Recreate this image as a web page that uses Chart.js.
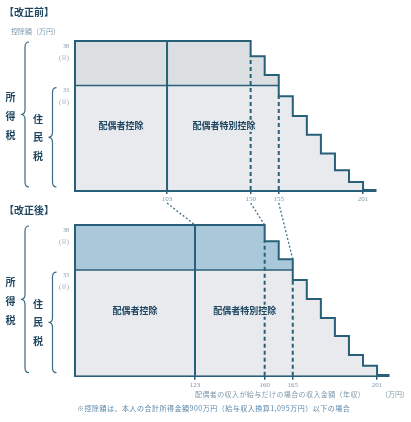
<!DOCTYPE html>
<html>
<head>
<meta charset="utf-8">
<script src="https://cdn.jsdelivr.net/npm/chart.js@4.4.1/dist/chart.umd.min.js"></script>
<style>
html, body { margin: 0; padding: 0; background: #fff; }
#wrap { position: relative; width: 411px; height: 422px; overflow: hidden; font-family: 'Noto Sans CJK JP', sans-serif; }
canvas { position: absolute; left: 0; top: 0; }
.t { position: absolute; white-space: nowrap; line-height: 1; }
.ttl { font-size: 10px; font-weight: bold; color: #1f4660; }
.sm { font-size: 7px; color: #7d98aa; }
</style>
</head>
<body>
<div id="wrap">
  <canvas id="before" width="411" height="422"></canvas>
  <canvas id="after" width="411" height="422"></canvas>
  <div class="t ttl" style="left:4px;top:7px">【改正前】</div>
  <div class="t sm" style="left:11px;top:28px">控除額（万円）</div>
  <div class="t ttl" style="left:4px;top:205px">【改正後】</div>
  <div class="t sm" style="left:195px;top:391px;letter-spacing:0.4px">配偶者の収入が給与だけの場合の収入金額（年収）</div>
  <div class="t sm" style="left:381px;top:391px">（万円）</div>
  <div class="t sm" style="left:77px;top:405px;letter-spacing:0.5px;color:#5b87a8">※控除額は、本人の合計所得金額900万円（給与収入換算1,095万円）以下の場合</div>
</div>
<script>
(function(){

    // schematic positions along the income axis (the picture is not to scale)
    const beforeTickLabels = ['103', '150', '155', '201'];
    const beforeTickPos = [6.55, 12.5, 14.5, 20.5];
    const beforeStepX = [12.5, 13.5, 14.5, 15.5, 16.5, 17.5, 18.5, 19.5, 20.5];
    const beforeLevels = [38, 36.3, 34.2, 31.8, 29.6, 27.5, 25.4, 23.5, 22.2, 21.3];

    const afterTickLabels = ['123', '160', '165', '201'];
    const afterTickPos = [8.54, 13.5, 15.5, 21.5];
    const afterStepX = [13.5, 14.5, 15.5, 16.5, 17.5, 18.5, 19.5, 20.5, 21.5];
    const afterLevels = [38, 36.2, 34.2, 31.9, 29.8, 27.7, 25.7, 23.6, 22.4, 21.3];

    const levelTicks = [33, 38];
    const residentLevel = 33;

    const dark = '#285f79';
    const textDark = '#1f4660';
    const tickColor = '#7d98aa';
    const lowerGray = '#e8eaed';
    const numFont = "'Liberation Serif', 'Noto Sans CJK JP', serif";
    const jpFont = "'Noto Sans CJK JP', sans-serif";

    function stairPoints(stepX, levels) {
        const pts = [{ x: 0, y: levels[levels.length - 1] }, { x: 0, y: levels[0] }];
        stepX.forEach((x, i) => pts.push({ x: x, y: levels[i + 1] }));
        return pts;
    }

    function levelAfter(p, stepX, levels) { return levels[stepX.indexOf(p) + 1]; }
    function stairTopAt(p, stepX, levels) {
        const i = stepX.indexOf(p);
        return i >= 0 ? levels[i] : levels[0];
    }

    function brace(ctx, x, y1, y2, tip) {
        const mid = (y1 + y2) / 2;
        ctx.beginPath();
        ctx.moveTo(x + 4, y1);
        ctx.quadraticCurveTo(x, y1, x, y1 + 5);
        ctx.lineTo(x, mid - 5);
        ctx.quadraticCurveTo(x, mid, tip, mid);
        ctx.quadraticCurveTo(x, mid, x, mid + 5);
        ctx.lineTo(x, y2 - 5);
        ctx.quadraticCurveTo(x, y2, x + 4, y2);
        ctx.stroke();
    }

    function vtext(ctx, str, x, yc, gap) {
        const chars = str.split('');
        chars.forEach((c, i) => ctx.fillText(c, x, yc + (i - (chars.length - 1) / 2) * gap));
    }

    function makePanel(id, p) {
        const base = p.levels[p.levels.length - 1];
        const stair = stairPoints(p.stepX, p.levels);
        const limit = p.tickPos[0];
        const cross = p.stepX[p.levels.findIndex(l => l < residentLevel) - 1];
        // band between the resident-tax line and the income-tax stair
        const band = stair.filter(pt => pt.x <= cross).map(pt => ({ x: pt.x, y: Math.max(pt.y, residentLevel) }));
        const dash1 = p.tickPos[1], dash2 = p.tickPos[2];
        const lineDs = (data, extra) => Object.assign({ data: data, borderColor: dark, borderWidth: 2, pointRadius: 0, fill: false, clip: false }, extra);

        const decor = {
            id: 'decor',
            afterDatasetsDraw(chart) {
                const ctx = chart.ctx, xs = chart.scales.x, ys = chart.scales.y;
                ctx.save();
                ctx.font = 'bold 9px ' + jpFont;
                ctx.textAlign = 'center';
                ctx.textBaseline = 'middle';
                const ly = ys.getPixelForValue(28.5);
                ctx.fillStyle = textDark;
                ctx.fillText('配偶者控除', (xs.getPixelForValue(0) + xs.getPixelForValue(limit)) / 2, ly);
                const sx = (xs.getPixelForValue(limit) + xs.getPixelForValue(dash2)) / 2 + 1;
                const w = ctx.measureText('配偶者特別控除').width;
                ctx.fillStyle = lowerGray;
                ctx.fillRect(sx - w / 2 - 1, ly - 6, w + 2, 12);
                ctx.fillStyle = textDark;
                ctx.fillText('配偶者特別控除', sx, ly);

                // braces for income tax / resident tax
                const yTop = ys.getPixelForValue(p.levels[0]) + 1;
                const yRes = ys.getPixelForValue(residentLevel) + 2;
                const yBot = ys.getPixelForValue(base) - 3;
                ctx.strokeStyle = '#3b6a83';
                ctx.lineWidth = 1.2;
                brace(ctx, 25, yTop, yBot, 21);
                brace(ctx, 52.5, yRes, yBot, 48.5);
                ctx.font = 'bold 10px ' + jpFont;
                vtext(ctx, '所得税', 10.5, (yTop + yBot) / 2 + 2, 19);
                vtext(ctx, '住民税', 38, (yRes + yBot) / 2, 18.5);

                if (p.link) {
                    // dotted connectors from the old limits to the new ones
                    const src = p.link.chart, sxs = src.scales.x;
                    const y0 = src.chartArea.bottom + 13;
                    ctx.strokeStyle = '#3f718a';
                    ctx.lineWidth = 1.3;
                    ctx.setLineDash([2, 2]);
                    for (let i = 0; i < 3; i++) {
                        const tx = p.tickPos[i];
                        ctx.beginPath();
                        ctx.moveTo(sxs.getPixelForValue(p.link.tickPos[i]), y0);
                        ctx.lineTo(xs.getPixelForValue(tx), ys.getPixelForValue(stairTopAt(tx, p.stepX, p.levels)));
                        ctx.stroke();
                    }
                }
                ctx.restore();
            }
        };

        return new Chart(document.getElementById(id), {
            type: 'line',
            data: {
                datasets: [
                    { data: stair, stepped: 'before', fill: 'start', backgroundColor: lowerGray, borderWidth: 0, pointRadius: 0, order: 7 },
                    { data: band, stepped: 'before', fill: { target: { value: residentLevel } }, backgroundColor: p.upper, borderWidth: 0, pointRadius: 0, order: 6 },
                    lineDs([{ x: 0, y: residentLevel }, { x: cross, y: residentLevel }], { borderWidth: 1.5, order: 5 }),
                    lineDs([{ x: limit, y: base }, { x: limit, y: p.levels[0] }], { order: 4 }),
                    lineDs([{ x: dash1, y: base }, { x: dash1, y: levelAfter(dash1, p.stepX, p.levels) }], { borderDash: [4, 3], order: 3 }),
                    lineDs([{ x: dash2, y: base }, { x: dash2, y: levelAfter(dash2, p.stepX, p.levels) }], { borderDash: [4, 3], order: 3 }),
                    lineDs(stair, { stepped: 'before', order: 1 })
                ]
            },
            options: {
                responsive: false,
                animation: false,
                devicePixelRatio: 1,
                layout: { padding: p.padding },
                plugins: { legend: { display: false }, tooltip: { enabled: false } },
                scales: {
                    x: {
                        type: 'linear', min: 0, max: p.xMax,
                        afterBuildTicks: s => { s.ticks = p.tickPos.map(v => ({ value: v })); },
                        afterFit: s => { s.height = 20; },
                        ticks: { autoSkip: false, maxRotation: 0, padding: 1, color: tickColor, font: { family: numFont, size: 7 },
                                 callback: (v, i) => p.tickLabels[i] },
                        grid: { drawOnChartArea: false, drawTicks: true, tickLength: 4, color: dark, lineWidth: 1.5 },
                        border: { display: true, color: dark, width: 3 }
                    },
                    y: {
                        type: 'linear', min: base, max: p.levels[0],
                        afterBuildTicks: s => { s.ticks = levelTicks.map(v => ({ value: v })); },
                        afterFit: s => { s.width = 30; },
                        ticks: { padding: 6, labelOffset: 11, color: tickColor, font: { family: numFont, size: 6, lineHeight: 2 },
                                 callback: v => [String(v), '(※)'] },
                        grid: { display: false, drawTicks: false },
                        border: { display: false }
                    }
                }
            },
            plugins: [decor]
        });
    }

    const beforeChart = makePanel('before', {
        tickLabels: beforeTickLabels, tickPos: beforeTickPos, stepX: beforeStepX, levels: beforeLevels,
        upper: '#dcdfe1', xMax: 21.4,
        padding: { left: 45, top: 41, right: 35.3, bottom: 212 }
    });

    makePanel('after', {
        tickLabels: afterTickLabels, tickPos: afterTickPos, stepX: afterStepX, levels: afterLevels,
        upper: '#a9c9db', xMax: 22.35,
        padding: { left: 45, top: 225, right: 22, bottom: 26.3 },
        link: { chart: beforeChart, tickPos: beforeTickPos }
    });
})();
</script>
</body>
</html>
